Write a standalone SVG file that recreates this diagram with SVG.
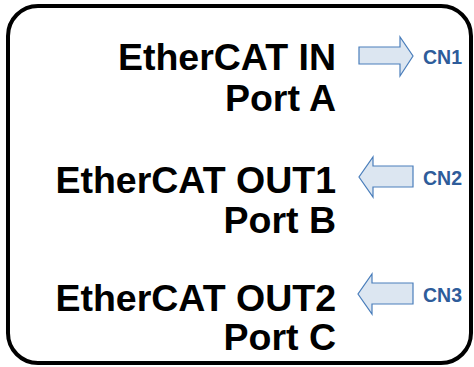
<svg xmlns="http://www.w3.org/2000/svg" width="474" height="367" viewBox="0 0 474 367">
<style>
.frame{fill:#fff;stroke:#000;stroke-width:4}
.lbl{font-family:"Liberation Sans",Arial,sans-serif;font-weight:bold;font-size:37.5px;fill:#000;text-anchor:end}
.cn{font-family:"Liberation Sans",Arial,sans-serif;font-weight:bold;font-size:19.5px;fill:#2e5c9a}
.arr{fill:#dce6f1;stroke:#4a7ebb;stroke-width:1.2;stroke-linejoin:miter}
</style>
<rect width="474" height="367" fill="#fff"/>
<rect class="frame" x="8" y="6" width="463" height="357" rx="30" ry="30"/>
<g id="port-a">
<text class="lbl" x="336" y="70">EtherCAT IN</text>
<text class="lbl" x="336" y="111">Port A</text>
</g>
<g id="port-b">
<text class="lbl" x="336" y="193">EtherCAT OUT1</text>
<text class="lbl" x="336" y="233">Port B</text>
</g>
<g id="port-c">
<text class="lbl" x="336" y="311">EtherCAT OUT2</text>
<text class="lbl" x="336" y="350">Port C</text>
</g>
<g id="cn1">
<text class="cn" x="423" y="64">CN1</text>
</g>
<g id="cn2">
<text class="cn" x="423" y="185">CN2</text>
</g>
<g id="cn3">
<text class="cn" x="423" y="302">CN3</text>
</g>
<g id="connectors">
<polygon class="arr" points="359,47 400,47 400,37 413,56 400,76 400,64 359,64"/>
<polygon class="arr" points="413,166 373,166 373,157 359,177 373,197 373,187 413,187"/>
<polygon class="arr" points="413,283 372,283 372,274 358,294 372,314 372,304 413,304"/>
</g>
</svg>
